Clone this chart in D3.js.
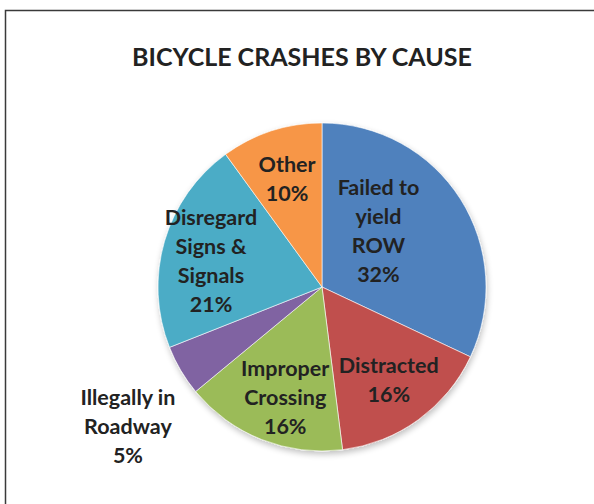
<!DOCTYPE html>
<html>
<head>
<meta charset="utf-8">
<script src="https://cdn.jsdelivr.net/npm/d3@7"></script>
<style>
  body { margin: 0; background: #fff; }
  text { font-family: Lato, "Open Sans", sans-serif; font-weight: bold; fill: #222; }
</style>
</head>
<body>
<svg id="chart"></svg>
<script>
var title = "BICYCLE CRASHES BY CAUSE";
var causes = ["Failed to\nyield\nROW", "Distracted", "Improper\nCrossing", "Illegally in\nRoadway", "Disregard\nSigns &\nSignals", "Other"];
var shares = [32, 16, 16, 5, 21, 10];
var colors = ["#4F81BD", "#C0504D", "#9BBB59", "#8064A2", "#4BACC6", "#F79646"];

// label nudges from the centroid (excel "best fit" placement)
var nudges = [[-28, -2], [8, 12], [0, 18], [-108, 89], [-15, 2], [-4, -13]];

var width = 594, height = 504;
var cx = 322, cy = 287, radius = 164;

var svg = d3.select("#chart")
    .attr("width", width)
    .attr("height", height);

var defs = svg.append("defs");
var shadow = defs.append("filter").attr("id", "shadow")
    .attr("x", "-20%").attr("y", "-20%").attr("width", "140%").attr("height", "140%");
shadow.append("feGaussianBlur").attr("in", "SourceAlpha").attr("stdDeviation", 3);
shadow.append("feOffset").attr("dx", 1).attr("dy", 3).attr("result", "off");
shadow.append("feComponentTransfer").append("feFuncA").attr("type", "linear").attr("slope", 0.25);
var merge = shadow.append("feMerge");
merge.append("feMergeNode");
merge.append("feMergeNode").attr("in", "SourceGraphic");

// chart border
svg.append("rect")
    .attr("x", 5.5).attr("y", 10.5)
    .attr("width", width + 10).attr("height", height + 10)
    .attr("fill", "none")
    .attr("stroke", "#3a3a3a")
    .attr("stroke-width", 1.5);

svg.append("text")
    .attr("x", 302)
    .attr("y", 66)
    .attr("text-anchor", "middle")
    .style("font-size", "25px")
    .text(title);

var data = causes.map(function(c, i){ return {cause: c, value: shares[i], i: i}; });

var pie = d3.pie().sort(null).value(function(d){ return d.value; });
var arc = d3.arc().innerRadius(0).outerRadius(radius);
var labelArc = d3.arc().innerRadius(100).outerRadius(100);

var g = svg.append("g").attr("transform", "translate(" + cx + "," + cy + ")");

g.append("g")
    .attr("filter", "url(#shadow)")
    .selectAll("path")
    .data(pie(data))
    .enter()
    .append("path")
      .attr("d", arc)
      .attr("fill", function(d){ return colors[d.data.i]; })
      .attr("stroke", "#fff")
      .attr("stroke-width", 0.6);

var labels = g.selectAll(".label")
    .data(pie(data))
    .enter()
    .append("text")
      .attr("class", "label")
      .attr("text-anchor", "middle")
      .style("font-size", "21.5px")
      .attr("transform", function(d){
        var c = labelArc.centroid(d);
        var n = nudges[d.data.i];
        return "translate(" + (c[0] + n[0]) + "," + (c[1] + n[1]) + ")";
      });

labels.each(function(d){
  var lines = d.data.cause.split("\n").concat([d.data.value + "%"]);
  var lh = 29;
  var top = -(lines.length - 1) * lh / 2 + 7.5;
  d3.select(this).selectAll("tspan")
      .data(lines)
      .enter()
      .append("tspan")
        .attr("x", 0)
        .attr("y", function(l, k){ return top + k * lh; })
        .text(function(l){ return l; });
});
</script>
</body>
</html>
